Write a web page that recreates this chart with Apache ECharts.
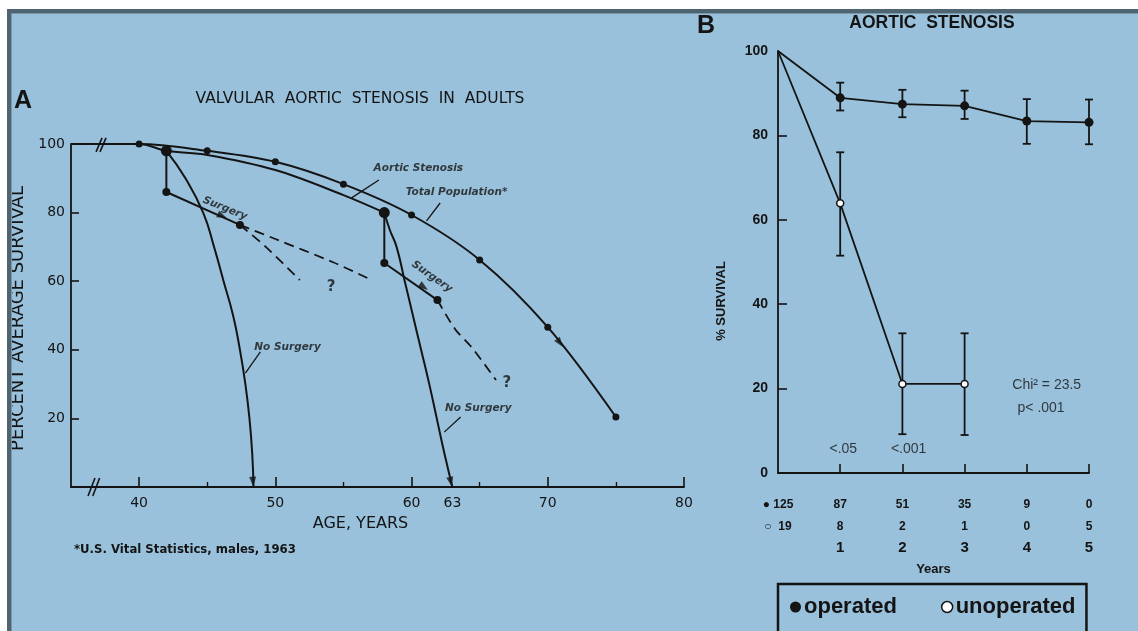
<!DOCTYPE html>
<html><head><meta charset="utf-8">
<script src="https://cdn.jsdelivr.net/npm/echarts@6/dist/echarts.min.js"></script>
<style>html,body{margin:0;padding:0;background:#fff}#c{width:1138px;height:631px}</style>
</head><body><div id="c"></div>
<script>
// ---------------- Panel A data (age, years -> percent average survival) ----------------
const ageMajorTicks = [40, 50, 60, 70, 80];
const ageMinorTicks = [45, 55, 65, 75];
const ageTickLabels = [40, 50, 60, 63, 70, 80];
const survivalTicksA = [20, 40, 60, 80];
const survivalTickLabelsA = [20, 40, 60, 80, 100];
const totalPopulation = [[35,100],[40,100],[45,98],[50,94.8],[55,88.3],[60,79.3],[65,66.2],[70,46.6],[75,20.4]];
const aorticStenosis = [[35,100],[40,100],[42,98],[45,96.8],[50,92.4],[55,85.1],[58,80]];
const earlyDrop = [[42,98],[42,86]];
const earlySurgery = [[42,86],[47.4,76.4]];
const earlyNoSurgery = [[42,98],[43.4,90],[44.7,80],[45.5,70],[46.2,60],[46.9,50],[47.4,40],[47.8,30],[48.1,20],[48.3,10],[48.4,0]];
const earlyProjectionLow = [[47.4,76.4],[49.3,70],[51.8,60.3]];
const earlyProjectionHigh = [[47.4,76.4],[50,72.3],[54.2,65.6],[57.1,60.3]];
const lateDrop = [[58,80],[58,65.3]];
const lateSurgery = [[58,65.3],[61.9,54.5]];
const lateNoSurgery = [[58,80],[58.4,75],[58.9,70],[59.5,60],[60.1,50],[60.7,40],[61.3,30],[61.85,20],[62.4,10],[63,0]];
const lateProjection = [[61.9,54.5],[63.2,46],[64.4,40.8],[66.2,31.2]];

// ---------------- Panel B data (years -> % survival) ----------------
const yearLabelValues = [0, 1, 2, 3, 4, 5];
const yearTicks = [1, 2, 3, 4, 5];
const survivalLabelsB = [0, 20, 40, 60, 80, 100];
const survivalTicksB = [20, 40, 60, 80];
const operated = [[0,100],[1,88.9],[2,87.4],[3,87],[4,83.4],[5,83.1]];
const operatedErr = [[1,85.9,92.5],[2,84.3,90.8],[3,83.9,90.6],[4,78,88.6],[5,77.9,88.5]];
const unoperated = [[0,100],[1,63.9],[2,21.1],[3,21.1]];
const unoperatedErr = [[1,51.5,76],[2,9.2,33.1],[3,9,33.1]];
const operatedAtRisk = [125, 87, 51, 35, 9, 0];
const unoperatedAtRisk = [19, 8, 2, 1, 0, 5];

// ---------------- layout / decoration (data coordinates) ----------------
const breakMarks = [
  [[36.25,-2.6],[36.76,2.6]], [[36.6,-2.6],[37.1,2.6]],
  [[36.84,97.7],[37.28,101.8]], [[37.13,97.7],[37.57,101.8]]
];
const leaderLines = [
  [[57.6,89.5],[55.6,84.3]],
  [[62.1,82.8],[61.1,77.6]],
  [[48.9,39.4],[47.8,33.2]],
  [[63.6,20.4],[62.4,16]]
];
const arrowPoints = [[46.1,79],[60.9,58.3],[70.9,42],[48.36,1.5],[62.88,1.5]];
const arrowAngles = [-114, -125, -143, 184, 192];
const annotationsA = [
  {name:'Aortic Stenosis', value:[60.5,93], rot:0},
  {name:'Total Population*', value:[63.3,85.8], rot:0},
  {name:'Surgery', value:[46.3,81.2], rot:-22},
  {name:'Surgery', value:[61.5,61.3], rot:-35},
  {name:'No Surgery', value:[50.9,40.8], rot:0},
  {name:'No Surgery', value:[64.9,23], rot:0}
];
const questionMarks = [[54.1,58.3],[67,30.3]];
const annotationsB = [
  {name:'<.05', value:[1.05,5.7]},
  {name:'<.001', value:[2.1,5.7]},
  {name:'Chi² = 23.5', value:[4.32,20.9]},
  {name:'p< .001', value:[4.23,15.4]}
];

const INK = '#141414';
const FA = '"DejaVu Sans", sans-serif';
const FB = '"Liberation Sans", Arial, sans-serif';

function lineA(data, extra) {
  return Object.assign({
    type:'line', xAxisIndex:0, yAxisIndex:0, data:data, symbol:'none',
    lineStyle:{color:INK, width:2}, itemStyle:{color:INK}, silent:true, z:3
  }, extra || {});
}
function dashedA(data) {
  return lineA(data, {smooth:0.3, lineStyle:{color:INK, width:1.8, type:[10,6]}});
}
function errorBarRender(params, api) {
  const x = api.value(0);
  const top = api.coord([x, api.value(2)]);
  const bot = api.coord([x, api.value(1)]);
  const cap = 4;
  const st = {stroke: INK, lineWidth: 1.8};
  return {type:'group', children:[
    {type:'line', shape:{x1:top[0], y1:top[1], x2:bot[0], y2:bot[1]}, style:st},
    {type:'line', shape:{x1:top[0]-cap, y1:top[1], x2:top[0]+cap, y2:top[1]}, style:st},
    {type:'line', shape:{x1:bot[0]-cap, y1:bot[1], x2:bot[0]+cap, y2:bot[1]}, style:st}
  ]};
}

const series = [];
// Panel A curves
series.push(lineA(totalPopulation, {smooth:0.35, symbol:'circle',
  symbolSize:(v,p)=> p.dataIndex === 0 ? 0 : 7}));
series.push(lineA(aorticStenosis, {smooth:0.35, symbol:'circle',
  symbolSize:(v,p)=> (p.dataIndex === 2 || p.dataIndex === 6) ? 11 : 0}));
series.push(lineA(earlyDrop));
series.push(lineA(earlySurgery, {symbol:'circle', symbolSize:(v,p)=> 8}));
series.push(lineA(earlyNoSurgery, {smooth:0.5}));
series.push(dashedA(earlyProjectionLow));
series.push(dashedA(earlyProjectionHigh));
series.push(lineA(lateDrop));
series.push(lineA(lateSurgery, {symbol:'circle', symbolSize:(v,p)=> 8}));
series.push(lineA(lateNoSurgery, {smooth:0.5}));
series.push(dashedA(lateProjection));
breakMarks.forEach(seg => series.push(lineA(seg, {clip:false, lineStyle:{color:INK, width:1.6}})));
leaderLines.forEach(seg => series.push(lineA(seg, {lineStyle:{color:INK, width:1.3}})));
series.push({
  type:'scatter', xAxisIndex:0, yAxisIndex:0, silent:true, z:5,
  data: arrowPoints, symbol:'triangle', symbolSize:[7,10],
  symbolRotate:(v,p)=> arrowAngles[p.dataIndex], itemStyle:{color:INK}
});
series.push({
  type:'scatter', xAxisIndex:0, yAxisIndex:0, silent:true, z:6, symbolSize:0,
  data: annotationsA.map(a => ({name:a.name, value:a.value, label:{rotate:a.rot}})),
  label:{show:true, position:'inside', formatter:'{b}', color:INK,
    fontFamily:FA, fontStyle:'italic', fontWeight:'bold', fontSize:10.5}
});
series.push({
  type:'scatter', xAxisIndex:0, yAxisIndex:0, silent:true, z:6, symbolSize:0,
  data: questionMarks,
  label:{show:true, position:'inside', formatter:'?', color:INK, fontFamily:FA, fontWeight:'bold', fontSize:15}
});

// Panel B
series.push({type:'custom', name:'operatedErr', xAxisIndex:2, yAxisIndex:1, renderItem:errorBarRender,
  data: operatedErr, encode:{x:0, y:[1,2]}, z:2, silent:true});
series.push({type:'custom', name:'unoperatedErr', xAxisIndex:2, yAxisIndex:1, renderItem:errorBarRender,
  data: unoperatedErr, encode:{x:0, y:[1,2]}, z:2, silent:true});
series.push({type:'line', name:'operated', xAxisIndex:2, yAxisIndex:1, data: operated,
  symbol:'circle', symbolSize:(v,p)=> p.dataIndex === 0 ? 0 : 9,
  lineStyle:{color:INK, width:1.8}, itemStyle:{color:INK}, z:4, silent:true});
series.push({type:'line', name:'unoperated', xAxisIndex:2, yAxisIndex:1, data: unoperated,
  symbol:'circle', symbolSize:(v,p)=> p.dataIndex === 0 ? 0 : 7,
  lineStyle:{color:INK, width:1.8}, itemStyle:{color:'#fff', borderColor:INK, borderWidth:1.5}, z:4, silent:true});
series.push({
  type:'scatter', xAxisIndex:2, yAxisIndex:1, silent:true, z:6, symbolSize:0,
  data: annotationsB,
  label:{show:true, position:'inside', formatter:'{b}', color:INK, fontFamily:FB, fontSize:14}
});

const option = {
  animation:false,
  backgroundColor:'#99c1db',
  graphic:[
    {type:'rect', shape:{x:0,y:0,width:1138,height:9}, style:{fill:'#fff'}, z:100},
    {type:'rect', shape:{x:0,y:0,width:7,height:631}, style:{fill:'#fff'}, z:100},
    {type:'rect', shape:{x:7,y:9,width:1131,height:4}, style:{fill:'#4e6471'}, z:100},
    {type:'rect', shape:{x:7,y:9,width:4,height:622}, style:{fill:'#4e6471'}, z:100},
    {type:'rect', shape:{x:11,y:13,width:1127,height:1}, style:{fill:'#7b96a8'}, z:100},
    {type:'rect', shape:{x:11,y:13,width:1,height:618}, style:{fill:'#7b96a8'}, z:100},
    {type:'text', x:14, y:101, style:{text:'A', font:'bold 25px "Liberation Sans", Arial', fill:INK, textVerticalAlign:'middle'}},
    {type:'text', x:360, y:99, style:{text:'VALVULAR  AORTIC  STENOSIS  IN  ADULTS', font:'15.5px "DejaVu Sans"', fill:INK, textAlign:'center', textVerticalAlign:'middle'}},
    {type:'text', x:74, y:550, style:{text:'*U.S. Vital Statistics, males, 1963', font:'bold 13px "DejaVu Sans Condensed", "DejaVu Sans"', fill:INK, textVerticalAlign:'middle'}},
    {type:'text', x:697, y:26, style:{text:'B', font:'bold 25px "Liberation Sans", Arial', fill:INK, textVerticalAlign:'middle'}},
    {type:'text', x:932, y:23, style:{text:'AORTIC  STENOSIS', font:'bold 17.5px "Liberation Sans", Arial', fill:INK, textAlign:'center', textVerticalAlign:'middle'}}
  ],
  grid:[
    {left:71, top:144, width:613, height:343},
    {left:778, top:51, width:311, height:422}
  ],
  legend:{
    data:[
      {name:'operated', icon:'circle', itemStyle:{color:INK, borderWidth:0}},
      {name:'unoperated', icon:'circle', itemStyle:{color:'#fff', borderColor:INK, borderWidth:1.5}}
    ],
    left:778, top:584, orient:'horizontal',
    itemWidth:11, itemHeight:11, itemGap:44,
    padding:[12, 11, 30, 12],
    borderColor:INK, borderWidth:2.5,
    textStyle:{fontFamily:FB, fontWeight:'bold', fontSize:22, color:INK, padding:[0,0,0,-2]},
    selectedMode:false
  },
  xAxis:[
    {gridIndex:0, type:'value', min:35, max:80, position:'bottom',
     axisLine:{lineStyle:{color:INK, width:1.8}},
     axisTick:{inside:true, length:10, customValues:ageMajorTicks, lineStyle:{color:INK, width:1.6}},
     axisLabel:{customValues:ageTickLabels, color:INK, fontFamily:FA, fontSize:14, margin:9},
     splitLine:{show:false},
     name:'AGE, YEARS', nameLocation:'middle', nameGap:29,
     nameTextStyle:{color:INK, fontFamily:FA, fontSize:16, padding:[0,34,0,0]}},
    {gridIndex:0, type:'value', min:35, max:80, position:'bottom',
     axisLine:{show:false},
     axisTick:{inside:true, length:5, customValues:ageMinorTicks, lineStyle:{color:INK, width:1.4}},
     axisLabel:{show:false}, splitLine:{show:false}},
    {gridIndex:1, type:'value', min:0, max:5, interval:1, position:'bottom',
     axisLine:{lineStyle:{color:INK, width:1.8}},
     axisTick:{inside:true, length:9, customValues:yearTicks, lineStyle:{color:INK, width:1.6}},
     axisLabel:{customValues:yearLabelValues, margin:21, color:INK, fontFamily:FB,
       formatter:function(v){
         const i = yearLabelValues.indexOf(v);
         if (i === 0) return '{cnt|● ' + operatedAtRisk[0] + '}\n{cnt|○  ' + unoperatedAtRisk[0] + '}';
         return '{cnt|' + operatedAtRisk[i] + '}\n{cnt|' + unoperatedAtRisk[i] + '}\n{yr|' + v + '}';
       },
       rich:{
         cnt:{fontFamily:FB, fontWeight:'bold', fontSize:12, lineHeight:21.5, color:INK},
         yr:{fontFamily:FB, fontWeight:'bold', fontSize:15, lineHeight:21.5, color:INK}
       }},
     splitLine:{show:false},
     name:'Years', nameLocation:'middle', nameGap:90,
     nameTextStyle:{color:INK, fontFamily:FB, fontWeight:'bold', fontSize:13}}
  ],
  yAxis:[
    {gridIndex:0, type:'value', min:0, max:100,
     axisLine:{show:true, lineStyle:{color:INK, width:1.8}},
     axisTick:{show:true, inside:true, length:8, customValues:survivalTicksA, lineStyle:{color:INK, width:1.6}},
     axisLabel:{customValues:survivalTickLabelsA, color:INK, fontFamily:FA, fontSize:14, margin:6},
     splitLine:{show:false},
     name:'PERCENT AVERAGE SURVIVAL', nameLocation:'middle', nameGap:44,
     nameTextStyle:{color:INK, fontFamily:FA, fontSize:18, padding:[0,6,0,0]}},
    {gridIndex:1, type:'value', min:0, max:100, interval:20,
     axisLine:{show:true, lineStyle:{color:INK, width:1.8}},
     axisTick:{show:true, inside:true, length:9, customValues:survivalTicksB, lineStyle:{color:INK, width:1.6}},
     axisLabel:{customValues:survivalLabelsB, color:INK, fontFamily:FB, fontWeight:'bold', fontSize:14, margin:10},
     splitLine:{show:false},
     name:'% SURVIVAL', nameLocation:'middle', nameGap:50,
     nameTextStyle:{color:INK, fontFamily:FB, fontWeight:'bold', fontSize:13, padding:[0,78,0,0]}}
  ],
  series: series
};

const chart = echarts.init(document.getElementById('c'), null, {renderer:'canvas'});
chart.setOption(option);
</script>
</body></html>
